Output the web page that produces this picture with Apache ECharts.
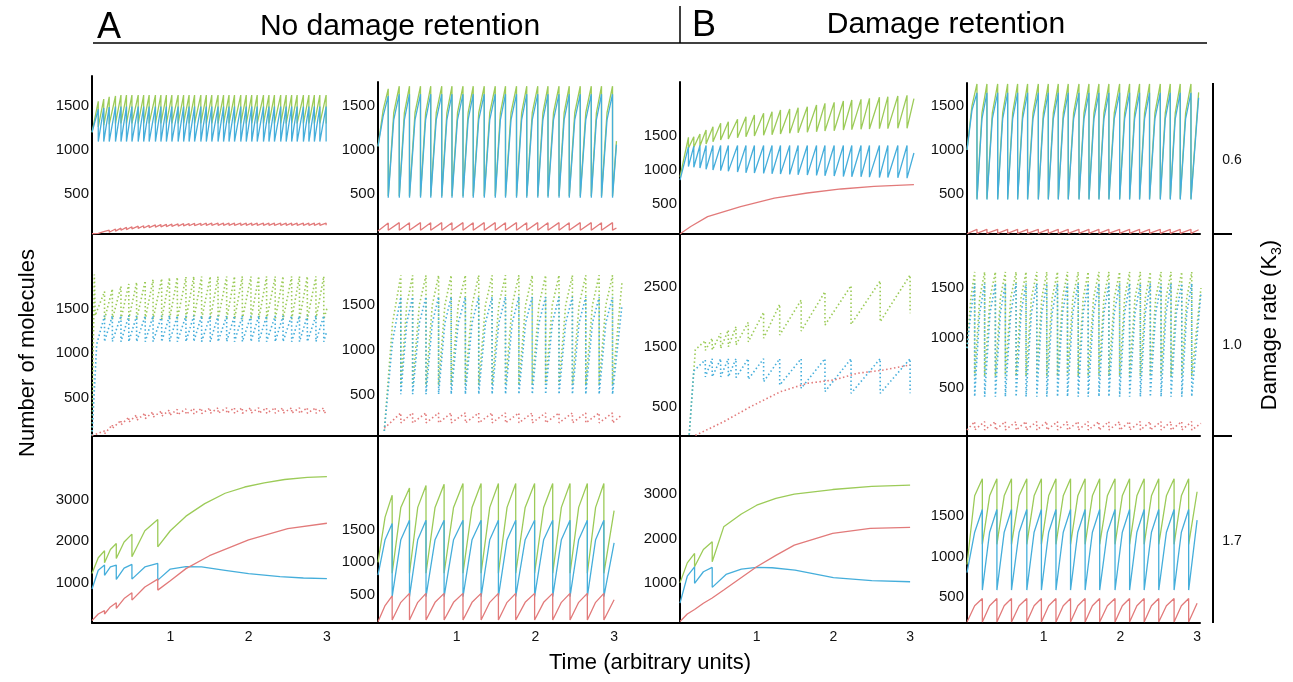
<!DOCTYPE html>
<html>
<head>
<meta charset="utf-8">
<title>Damage retention</title>
<script src="https://cdn.jsdelivr.net/npm/echarts@6/dist/echarts.min.js"></script>
<style>
  html, body { margin: 0; padding: 0; background: #fff; }
  #main { width: 1293px; height: 682px; }
</style>
</head>
<body>
<div id="main"></div>
<script>
// colours of the three species
var cGreen = '#9ccb58', cBlue = '#45aedb', cRed = '#e27a7a';

// tick labels
var xTicks = [1, 2, 3];
var yTicksLow = [500, 1000, 1500];
var yTicksHigh = [1000, 2000, 3000];
var yTicksP23 = [500, 1500, 2500];
var rateLabels = ['0.6', '1.0', '1.7'];

// ===== row 1, K3 = 0.6 =====
// A, left panel
var p11Div = [0.08,0.15,0.22,0.30,0.37,0.44,0.51,0.59,0.66,0.73,
  0.81,0.88,0.95,1.02,1.10,1.17,1.24,1.31,1.39,1.46,
  1.53,1.61,1.68,1.75,1.82,1.90,1.97,2.04,2.11,2.19,
  2.26,2.33,2.41,2.48,2.55,2.62,2.70,2.77,2.84,2.91,2.99];
var p11GreenPk = [1550,1575,1600,1610,1620,1620,1620,1620,1620,1620,
  1620,1620,1620,1620,1620,1620,1620,1620,1620,1620,
  1620,1620,1620,1620,1620,1620,1620,1620,1620,1620,
  1620,1620,1620,1620,1620,1620,1620,1620,1620,1620,1620];
var p11GreenTr = [1260,1280,1290,1300,1300,1300,1300,1300,1300,1300,
  1300,1300,1300,1300,1300,1300,1300,1300,1300,1300,
  1300,1300,1300,1300,1300,1300,1300,1300,1300,1300,
  1300,1300,1300,1300,1300,1300,1300,1300,1300,1300,1300];
var p11BluePk = [1460,1475,1485,1490,1490,1490,1490,1490,1490,1490,
  1490,1490,1490,1490,1490,1490,1490,1490,1490,1490,
  1490,1490,1490,1490,1490,1490,1490,1490,1490,1490,
  1490,1490,1490,1490,1490,1490,1490,1490,1490,1490,1490];
var p11BlueTr = [1095,1095,1095,1095,1095,1095,1095,1095,1095,1095,
  1095,1095,1095,1095,1095,1095,1095,1095,1095,1095,
  1095,1095,1095,1095,1095,1095,1095,1095,1095,1095,
  1095,1095,1095,1095,1095,1095,1095,1095,1095,1095,1095];
var p11RedPk = [60,80,95,108,118,127,134,140,145,150,
  154,158,161,164,166,168,170,172,173,174,
  175,175,175,175,175,175,175,175,175,175,
  175,175,175,175,175,175,175,175,175,175,175];
var p11RedTr = [40,58,72,84,94,102,109,115,120,125,
  129,133,136,139,141,143,145,147,148,149,
  150,150,150,150,150,150,150,150,150,150,
  150,150,150,150,150,150,150,150,150,150,150];

// A, right panel
var p12Div = [0.13,0.27,0.40,0.54,0.67,0.81,0.94,1.08,1.21,1.35,
  1.49,1.62,1.76,1.89,2.03,2.16,2.30,2.43,2.57,2.71,2.84,2.98];
var p12GreenPk = [1690,1720,1720,1720,1720,1720,1720,1720,1720,1720,
  1720,1720,1720,1720,1720,1720,1720,1720,1720,1720,1720,1720];
var p12GreenMid = [1450,1420,1420,1420,1420,1420,1420,1420,1420,1420,
  1420,1420,1420,1420,1420,1420,1420,1420,1420,1420,1420,1420];
var p12GreenTr = [480,480,480,480,480,480,480,480,480,480,
  480,480,480,480,480,480,480,480,480,480,480,480];
var p12BluePk = [1610,1630,1630,1630,1630,1630,1630,1630,1630,1630,
  1630,1630,1630,1630,1630,1630,1630,1630,1630,1630,1630,1630];
var p12BlueMid = [1380,1340,1340,1340,1340,1340,1340,1340,1340,1340,
  1340,1340,1340,1340,1340,1340,1340,1340,1340,1340,1340,1340];
var p12BlueTr = [462,462,462,462,462,462,462,462,462,462,
  462,462,462,462,462,462,462,462,462,462,462,462];
var p12RedPk = [175,180,180,180,180,180,180,180,180,180,
  180,180,180,180,180,180,180,180,180,180,180,180];
var p12RedTr = [95,95,95,95,95,95,95,95,95,95,
  95,95,95,95,95,95,95,95,95,95,95,95];

// B, left panel
var p13Div = [0.11,0.18,0.26,0.34,0.43,0.53,0.63,0.75,0.86,0.97,
  1.09,1.20,1.31,1.43,1.54,1.66,1.78,1.89,2.01,2.13,
  2.24,2.36,2.47,2.60,2.71,2.84,2.96];
var p13GreenPk = [1481,1490,1529,1588,1637,1686,1710,1745,1784,1809,
  1833,1858,1882,1897,1916,1931,1956,1980,1995,2015,
  2029,2039,2054,2069,2078,2088,2098];
var p13GreenTr = [1319,1334,1353,1382,1416,1441,1456,1475,1490,1500,
  1510,1519,1529,1539,1549,1554,1563,1573,1578,1588,
  1593,1598,1603,1608,1608,1613,1613];
var p13BluePk = [1340,1350,1360,1360,1360,1360,1360,1360,1360,1360,
  1360,1360,1360,1360,1360,1360,1360,1360,1360,1360,
  1360,1360,1360,1360,1360,1360,1360];
var p13BlueTr = [1050,1040,1030,1010,1000,990,980,970,960,955,
  950,945,940,935,930,925,920,915,910,905,
  900,900,895,890,890,885,880];
var p13Red = [[0,60],[0.05,100],[0.14,170],[0.36,315],[0.79,462],[1.23,588],[1.66,662],[2.10,721],[2.53,760],[3.05,785]];

// B, right panel
var p14Div = [0.13,0.26,0.40,0.53,0.66,0.79,0.93,1.06,1.19,1.32,
  1.46,1.59,1.72,1.85,1.99,2.12,2.25,2.38,2.52,2.65,2.78,2.92];
var p14GreenPk = [1745,1745,1745,1745,1745,1745,1745,1745,1745,1745,
  1745,1745,1745,1745,1745,1745,1745,1745,1745,1745,1745,1745];
var p14GreenMid = [1500,1420,1420,1420,1420,1420,1420,1420,1420,1420,
  1420,1420,1420,1420,1420,1420,1420,1420,1420,1420,1420,1420];
var p14GreenTr = [450,450,450,450,450,450,450,450,450,450,
  450,450,450,450,450,450,450,450,450,450,450,450];
var p14BluePk = [1645,1645,1645,1645,1645,1645,1645,1645,1645,1645,
  1645,1645,1645,1645,1645,1645,1645,1645,1645,1645,1645,1645];
var p14BlueMid = [1450,1350,1350,1350,1350,1350,1350,1350,1350,1350,
  1350,1350,1350,1350,1350,1350,1350,1350,1350,1350,1350,1350];
var p14BlueTr = [440,440,440,440,440,440,440,440,440,440,
  440,440,440,440,440,440,440,440,440,440,440,440];
var p14RedPk = [105,105,105,105,105,105,105,105,105,105,
  105,105,105,105,105,105,105,105,105,105,105,105];
var p14RedTr = [60,60,60,60,60,60,60,60,60,60,
  60,60,60,60,60,60,60,60,60,60,60,60];

// ===== row 2, K3 = 1.0 =====
var p21Div = [0.16,0.26,0.37,0.47,0.57,0.68,0.78,0.89,0.99,1.09,
  1.20,1.30,1.40,1.51,1.61,1.72,1.82,1.92,2.03,2.13,
  2.23,2.34,2.44,2.55,2.65,2.75,2.86,2.96];
var p21GreenPk = [1690,1720,1750,1775,1795,1810,1825,1835,1845,1850,
  1855,1860,1860,1860,1860,1860,1860,1860,1860,1860,
  1860,1860,1860,1860,1860,1860,1860,1860];
var p21GreenTr = [1380,1380,1380,1380,1380,1380,1380,1380,1380,1380,
  1380,1380,1380,1380,1380,1380,1380,1380,1380,1380,
  1380,1380,1380,1380,1380,1380,1380,1380];
var p21BluePk = [1420,1420,1420,1420,1420,1420,1420,1420,1420,1420,
  1420,1420,1420,1420,1420,1420,1420,1420,1420,1420,
  1420,1420,1420,1420,1420,1420,1420,1420];
var p21BlueTr = [1130,1130,1130,1130,1130,1130,1130,1130,1130,1130,
  1130,1130,1130,1130,1130,1130,1130,1130,1130,1130,
  1130,1130,1130,1130,1130,1130,1130,1130];
var p21RedPk = [130,200,250,285,310,330,345,355,365,372,
  378,382,385,388,390,390,390,390,390,390,
  390,390,390,390,390,390,390,390];
var p21RedTr = [100,160,200,230,250,270,285,295,305,312,
  318,322,325,328,330,330,330,330,330,330,
  330,330,330,330,330,330,330,330];

var p22Div = [0.29,0.44,0.61,0.77,0.93,1.11,1.28,1.45,1.62,1.79,
  1.96,2.13,2.30,2.47,2.64,2.81,2.98];
var p22GreenPk = [1830,1830,1830,1830,1830,1830,1830,1830,1830,1830,
  1830,1830,1830,1830,1830,1830,1830];
var p22GreenMid = [1300,1500,1500,1500,1500,1500,1500,1500,1500,1500,
  1500,1500,1500,1500,1500,1500,1500];
var p22GreenTr = [610,610,610,610,610,610,610,610,610,610,
  610,610,610,610,610,610,610];
var p22BluePk = [1590,1590,1590,1590,1590,1590,1590,1590,1590,1590,
  1590,1590,1590,1590,1590,1590,1590];
var p22BlueMid = [1100,1300,1300,1300,1300,1300,1300,1300,1300,1300,
  1300,1300,1300,1300,1300,1300,1300];
var p22BlueTr = [508,508,508,508,508,508,508,508,508,508,
  508,508,508,508,508,508,508];
var p22RedPk = [300,300,300,300,300,300,300,300,300,300,
  300,300,300,300,300,300,300];
var p22RedTr = [190,190,190,190,190,190,190,190,190,190,
  190,190,190,190,190,190,190];

var p23Div = [0.33,0.42,0.53,0.63,0.73,0.89,1.09,1.30,1.58,1.89,2.23,2.61,3.00];
var p23GreenPk = [1600,1639,1722,1777,1832,1905,2071,2203,2274,2412,2512,2590,2689];
var p23GreenTr = [1440,1445,1473,1500,1530,1580,1640,1694,1760,1860,1870,1915,2054];
var p23BluePk = [1280,1300,1300,1300,1300,1300,1300,1300,1300,1300,1300,1300,1300];
var p23BlueTr = [1000,1000,1000,1000,990,960,920,865,810,755,727,727,727];
var p23Red = [[0.20,30],[0.57,256],[0.92,505],[1.31,754],[1.66,893],[2.01,948],[2.31,1059],[2.66,1114],[3.00,1197]];

var p24Div = [0.10,0.23,0.37,0.50,0.64,0.77,0.91,1.04,1.18,1.31,
  1.45,1.58,1.72,1.85,1.99,2.12,2.26,2.39,2.53,2.66,2.80,2.93];
var p24GreenPk = [1660,1660,1660,1660,1660,1660,1660,1660,1660,1660,
  1660,1660,1660,1660,1660,1660,1660,1660,1660,1660,1660,1660];
var p24GreenMid = [1400,1400,1400,1400,1400,1400,1400,1400,1400,1400,
  1400,1400,1400,1400,1400,1400,1400,1400,1400,1400,1400,1400];
var p24GreenTr = [620,620,620,620,620,620,620,620,620,620,
  620,620,620,620,620,620,620,620,620,620,620,620];
var p24BluePk = [1545,1545,1545,1545,1545,1545,1545,1545,1545,1545,
  1545,1545,1545,1545,1545,1545,1545,1545,1545,1545,1545,1545];
var p24BlueMid = [1250,1250,1250,1250,1250,1250,1250,1250,1250,1250,
  1250,1250,1250,1250,1250,1250,1250,1250,1250,1250,1250,1250];
var p24BlueTr = [416,416,416,416,416,416,416,416,416,416,
  416,416,416,416,416,416,416,416,416,416,416,416];
var p24RedPk = [167,167,167,167,167,167,167,167,167,167,
  167,167,167,167,167,167,167,167,167,167,167,167];
var p24RedTr = [84,84,84,84,84,84,84,84,84,84,
  84,84,84,84,84,84,84,84,84,84,84,84];

// ===== row 3, K3 = 1.7 =====
var p31Div = [0.16,0.31,0.51,0.84];
var p31GreenPk = [1768,1944,2168,2520];
var p31GreenMid = [1600,1800,1980,2250];
var p31GreenTr = [1480,1584,1624,1864];
var p31GreenTail = [[1.0,2250],[1.2,2600],[1.44,2900],[1.7,3150],[1.95,3300],[2.2,3400],[2.46,3480],[2.75,3530],[3.0,3550]];
var p31BluePk = [1424,1424,1440,1464];
var p31BlueMid = [1300,1380,1350,1380];
var p31BlueTr = [1180,1080,1088,1064];
var p31BlueTail = [[1.0,1330],[1.2,1390],[1.4,1380],[1.7,1300],[2.0,1220],[2.4,1150],[2.7,1115],[3.0,1100]];
var p31RedPk = [330,520,760,1088];
var p31RedMid = [250,420,620,900];
var p31RedTr = [250,384,584,824];
var p31RedTail = [[1.0,1050],[1.2,1340],[1.5,1650],[2.0,2030],[2.5,2300],[3.0,2430]];

var p32Div = [0.18,0.40,0.61,0.84,1.08,1.31,1.53,1.75,1.99,2.22,2.44,2.66,2.87];
var p32GreenPk = [2040,2150,2190,2210,2220,2220,2220,2220,2220,2220,2220,2220,2220];
var p32GreenMid = [1700,1850,1850,1850,1850,1850,1850,1850,1850,1850,1850,1850,1850];
var p32GreenTr = [830,830,830,830,830,830,830,830,830,830,830,830,830];
var p32BluePk = [1600,1650,1650,1650,1650,1650,1650,1650,1650,1650,1650,1650,1650];
var p32BlueMid = [1350,1350,1350,1350,1350,1350,1350,1350,1350,1350,1350,1350,1350];
var p32BlueTr = [467,467,467,467,467,467,467,467,467,467,467,467,467];
var p32RedPk = [480,519,519,519,519,519,519,519,519,519,519,519,519];
var p32RedMid = [330,380,380,380,380,380,380,380,380,380,380,380,380];
var p32RedTr = [107,107,107,107,107,107,107,107,107,107,107,107,107];

var p33Div = [0.19,0.42];
var p33GreenPk = [1663,1924];
var p33GreenMid = [1450,1750];
var p33GreenTr = [1362,1474];
var p33GreenTail = [[0.57,2261],[0.8,2550],[1.0,2748],[1.25,2900],[1.49,2996],[1.99,3101],[2.5,3170],[3.0,3198]];
var p33BluePk = [1362,1348];
var p33BlueMid = [1150,1250];
var p33BlueTr = [989,899];
var p33BlueTail = [[0.6,1190],[0.8,1310],[1.0,1348],[1.2,1340],[1.5,1288],[2.0,1120],[2.5,1050],[3.0,1025]];
var p33RedPk = [400,660];
var p33RedMid = [300,540];
var p33RedTr = [360,620];
var p33RedTail = [[0.57,838],[1.0,1362],[1.25,1620],[1.49,1849],[1.99,2112],[2.48,2225],[3.0,2247]];

var p34Div = [0.20,0.39,0.58,0.78,0.97,1.16,1.35,1.54,1.73,1.93,2.12,2.31,2.50,2.70,2.89];
var p34GreenPk = [1960,1960,1960,1960,1960,1960,1960,1960,1960,1960,1960,1960,1960,1960,1960];
var p34GreenMid = [1750,1750,1750,1750,1750,1750,1750,1750,1750,1750,1750,1750,1750,1750,1750];
var p34GreenTr = [1150,1150,1150,1150,1150,1150,1150,1150,1150,1150,1150,1150,1150,1150,1150];
var p34BluePk = [1580,1580,1580,1580,1580,1580,1580,1580,1580,1580,1580,1580,1580,1580,1580];
var p34BlueMid = [1300,1300,1300,1300,1300,1300,1300,1300,1300,1300,1300,1300,1300,1300,1300];
var p34BlueTr = [584,584,584,584,584,584,584,584,584,584,584,584,584,584,584];
var p34RedPk = [480,480,480,480,480,480,480,480,480,480,480,480,480,480,480];
var p34RedMid = [390,390,390,390,390,390,390,390,390,390,390,390,390,390,390];
var p34RedTr = [190,190,190,190,190,190,190,190,190,190,190,190,190,190,190];

// sawtooth: lead-in points, then (mid value), peak and drop for every
// division, then tail points
function saw(lead, div, pk, tr, tail, mid) {
  var pts = lead.slice();
  var prevT = pts.length ? pts[pts.length - 1][0] : 0;
  for (var i = 0; i < div.length; i++) {
    if (pk[i] == null || tr[i] == null) break;
    if (mid && mid[i] != null) pts.push([(prevT + div[i]) / 2, mid[i]]);
    pts.push([div[i], pk[i]]);
    pts.push([div[i], tr[i]]);
    prevT = div[i];
  }
  return pts.concat(tail || []);
}

// layout
var colLeft = [92, 378, 680, 967];
var colRight = [378, 680, 967, 1200];
var colPx = [78.3, 78.7, 76.7, 76.7];   // pixels per time unit
var rowBottom = [234, 436, 623];

var panels = [
  {row: 0, col: 0, top: 76, yMin: 52, yMax: 1835, ticks: yTicksLow, lines: [
    saw([[0, 1200]], p11Div, p11GreenPk, p11GreenTr),
    saw([[0, 1200]], p11Div, p11BluePk, p11BlueTr),
    saw([[0, 55]], p11Div, p11RedPk, p11RedTr)]},
  {row: 0, col: 1, top: 82, yMin: 52, yMax: 1767, ticks: yTicksLow, lines: [
    saw([[0, 1040]], p12Div, p12GreenPk, p12GreenTr, [[3.03, 1100]], p12GreenMid),
    saw([[0, 1040]], p12Div, p12BluePk, p12BlueTr, [[3.03, 1060]], p12BlueMid),
    saw([[0, 85]], p12Div, p12RedPk, p12RedTr, [[3.03, 120]])]},
  {row: 0, col: 2, top: 82, yMin: 59, yMax: 2294, ticks: yTicksLow, lines: [
    saw([[0, 900]], p13Div, p13GreenPk, p13GreenTr, [[3.05, 2050]]),
    saw([[0, 850]], p13Div, p13BluePk, p13BlueTr, [[3.05, 1250]]),
    p13Red]},
  {row: 0, col: 3, top: 83, yMin: 52, yMax: 1756, ticks: yTicksLow, lines: [
    saw([[0, 1000]], p14Div, p14GreenPk, p14GreenTr, [[3.02, 1650]], p14GreenMid),
    saw([[0, 1000]], p14Div, p14BluePk, p14BlueTr, [[3.02, 1590]], p14BlueMid),
    saw([[0, 55]], p14Div, p14RedPk, p14RedTr, [[3.02, 100]])]},

  {row: 1, col: 0, top: 234, yMin: 75, yMax: 2334, ticks: yTicksLow, lines: [
    saw([[0, 80], [0.03, 1880], [0.04, 1420]], p21Div, p21GreenPk, p21GreenTr, [[3.0, 1500]]),
    saw([[0, 80], [0.06, 1100]], p21Div, p21BluePk, p21BlueTr, [[3.0, 1250]]),
    saw([[0, 80]], p21Div, p21RedPk, p21RedTr, [[3.0, 350]])]},
  {row: 1, col: 1, top: 234, yMin: 44, yMax: 2289, ticks: yTicksLow, lines: [
    saw([[0.08, 100]], p22Div, p22GreenPk, p22GreenTr, [[3.1, 1750]], p22GreenMid),
    saw([[0.08, 100]], p22Div, p22BluePk, p22BlueTr, [[3.1, 1500]], p22BlueMid),
    saw([[0.08, 130]], p22Div, p22RedPk, p22RedTr, [[3.1, 280]])]},
  {row: 1, col: 2, top: 234, yMin: 19, yMax: 3369, ticks: yTicksP23, lines: [
    saw([[0.12, 40], [0.2, 1450]], p23Div, p23GreenPk, p23GreenTr),
    saw([[0.12, 40], [0.18, 1100]], p23Div, p23BluePk, p23BlueTr),
    p23Red]},
  {row: 1, col: 3, top: 234, yMin: 24, yMax: 2038, ticks: yTicksLow, lines: [
    saw([[0, 900]], p24Div, p24GreenPk, p24GreenTr, [[3.05, 1500]], p24GreenMid),
    saw([[0, 900]], p24Div, p24BluePk, p24BlueTr, [[3.05, 1450]], p24BlueMid),
    saw([[0, 84]], p24Div, p24RedPk, p24RedTr, [[3.05, 150]])]},

  {row: 2, col: 0, top: 437, yMin: 34, yMax: 4501, ticks: yTicksHigh, lines: [
    saw([[0, 1224]], p31Div, p31GreenPk, p31GreenTr, p31GreenTail, p31GreenMid),
    saw([[0, 850]], p31Div, p31BluePk, p31BlueTr, p31BlueTail, p31BlueMid),
    saw([[0, 90]], p31Div, p31RedPk, p31RedTr, p31RedTail, p31RedMid)]},
  {row: 2, col: 1, top: 437, yMin: 60, yMax: 2940, ticks: yTicksLow, lines: [
    saw([[0, 1000]], p32Div, p32GreenPk, p32GreenTr, [[3.0, 1800]], p32GreenMid),
    saw([[0, 800]], p32Div, p32BluePk, p32BlueTr, [[3.0, 1300]], p32BlueMid),
    saw([[0, 80]], p32Div, p32RedPk, p32RedTr, [[3.0, 420]], p32RedMid)]},
  {row: 2, col: 2, top: 437, yMin: 97, yMax: 4283, ticks: yTicksHigh, lines: [
    saw([[0, 1000]], p33Div, p33GreenPk, p33GreenTr, p33GreenTail, p33GreenMid),
    saw([[0, 546]], p33Div, p33BluePk, p33BlueTr, p33BlueTail, p33BlueMid),
    saw([[0, 130]], p33Div, p33RedPk, p33RedTr, p33RedTail, p33RedMid)]},
  {row: 2, col: 3, top: 437, yMin: 177, yMax: 2477, ticks: yTicksLow, lines: [
    saw([[0, 900]], p34Div, p34GreenPk, p34GreenTr, [[3.0, 1800]], p34GreenMid),
    saw([[0, 800]], p34Div, p34BluePk, p34BlueTr, [[3.0, 1450]], p34BlueMid),
    saw([[0, 190]], p34Div, p34RedPk, p34RedTr, [[3.0, 420]], p34RedMid)]}
];

var font = 'Liberation Sans';
var colors = [cGreen, cBlue, cRed];
var grids = [], xAxes = [], yAxes = [], series = [];
var plain = function (v) { return String(v); };

panels.forEach(function (p, i) {
  var left = colLeft[p.col], right = colRight[p.col];
  var bottom = rowBottom[p.row];
  grids.push({left: left, top: p.top, width: right - left, height: bottom - p.top});
  xAxes.push({
    type: 'value', gridIndex: i, min: 0, max: (right - left) / colPx[p.col],
    axisLine: {onZero: false, lineStyle: {color: '#000', width: 2}},
    axisTick: {show: false}, splitLine: {show: false},
    axisLabel: p.row === 2
      ? {customValues: xTicks, formatter: plain, fontSize: 14, color: '#111', margin: 7, fontFamily: font}
      : {show: false}
  });
  yAxes.push({
    type: 'value', gridIndex: i, min: p.yMin, max: p.yMax,
    axisLine: {show: true, onZero: false, lineStyle: {color: '#000', width: 2}},
    axisTick: {show: false}, splitLine: {show: false},
    axisLabel: {customValues: p.ticks, formatter: plain, fontSize: 15, color: '#111', margin: 3, fontFamily: font}
  });
  p.lines.forEach(function (pts, k) {
    series.push({
      type: 'line', xAxisIndex: i, yAxisIndex: i, data: pts,
      showSymbol: false, silent: true,
      lineStyle: {
        color: colors[k],
        width: p.row === 1 ? 1.6 : 1.3,
        type: p.row === 1 ? [1.5, 2.5] : 'solid'
      }
    });
  });
});

var rateY = [160, 345, 541];
var graphics = [
  {type: 'text', left: 97, top: 10, style: {text: 'A', font: '36px ' + font, fill: '#000'}},
  {type: 'text', x: 400, y: 27, style: {text: 'No damage retention', font: '30px ' + font, fill: '#000', align: 'center', verticalAlign: 'middle'}},
  {type: 'text', left: 692, top: 8, style: {text: 'B', font: '36px ' + font, fill: '#000'}},
  {type: 'text', x: 946, y: 25, style: {text: 'Damage retention', font: '30px ' + font, fill: '#000', align: 'center', verticalAlign: 'middle'}},
  {type: 'line', shape: {x1: 93, y1: 43, x2: 1207, y2: 43}, style: {stroke: '#000', lineWidth: 1.5}},
  {type: 'line', shape: {x1: 680, y1: 6, x2: 680, y2: 43}, style: {stroke: '#000', lineWidth: 1.5}},
  {type: 'line', shape: {x1: 1213, y1: 83, x2: 1213, y2: 623}, style: {stroke: '#000', lineWidth: 2}},
  {type: 'line', shape: {x1: 1213, y1: 234, x2: 1232, y2: 234}, style: {stroke: '#000', lineWidth: 2}},
  {type: 'line', shape: {x1: 1213, y1: 436, x2: 1232, y2: 436}, style: {stroke: '#000', lineWidth: 2}},
  {type: 'text', x: 28, y: 353, rotation: Math.PI / 2,
    style: {text: 'Number of molecules', font: '22px ' + font, fill: '#000', align: 'center', verticalAlign: 'middle'}},
  {type: 'text', x: 650, y: 663,
    style: {text: 'Time (arbitrary units)', font: '22px ' + font, fill: '#000', align: 'center', verticalAlign: 'middle'}},
  {type: 'text', x: 1270, y: 325, rotation: Math.PI / 2,
    style: {text: '{a|Damage rate (K}{s|3}{a|)}', align: 'center', verticalAlign: 'middle', fill: '#000',
      rich: {
        a: {fontSize: 22, fontFamily: font, lineHeight: 28, verticalAlign: 'middle'},
        s: {fontSize: 14, fontFamily: font, lineHeight: 28, verticalAlign: 'bottom'}
      }}}
];
rateLabels.forEach(function (t, i) {
  graphics.push({type: 'text', x: 1232, y: rateY[i],
    style: {text: t, font: '14px ' + font, fill: '#111', align: 'center', verticalAlign: 'middle'}});
});

var chart = echarts.init(document.getElementById('main'), null, {renderer: 'canvas'});
chart.setOption({
  animation: false,
  backgroundColor: '#fff',
  grid: grids,
  xAxis: xAxes,
  yAxis: yAxes,
  series: series,
  graphic: graphics
});
</script>
</body>
</html>
